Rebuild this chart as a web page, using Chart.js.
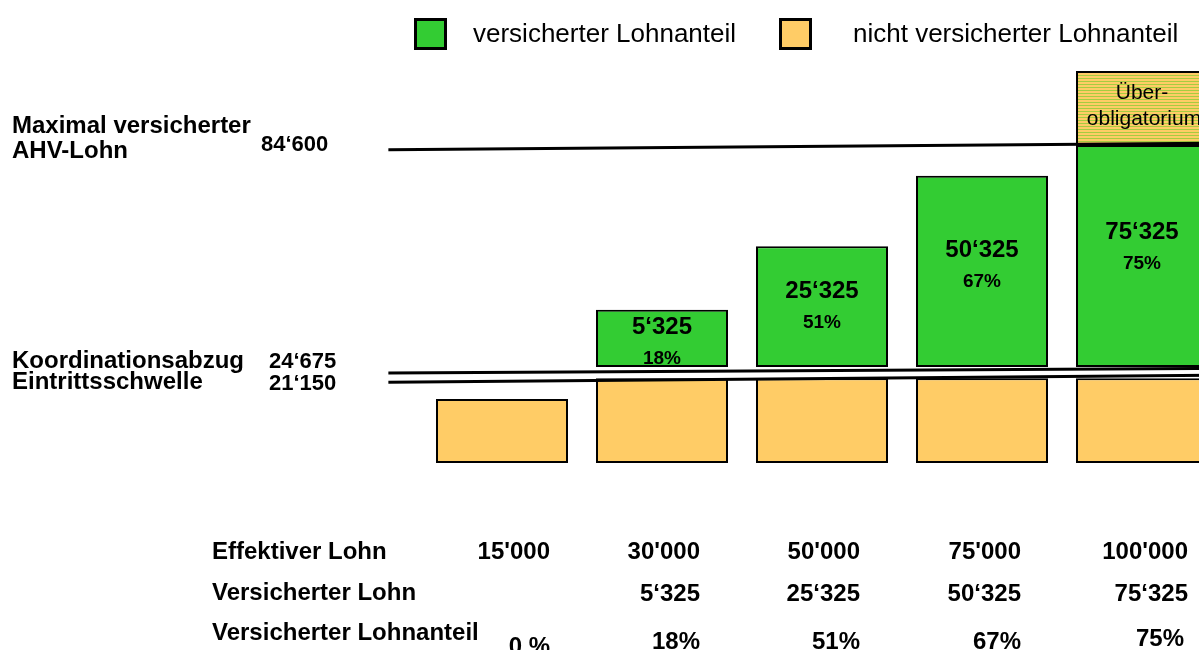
<!DOCTYPE html>
<html>
<head>
<meta charset="utf-8">
<script src="https://cdn.jsdelivr.net/npm/chart.js@4.4.1/dist/chart.umd.min.js"></script>
<style>
  html, body { margin: 0; padding: 0; background: #fff; overflow: hidden; }
  #wrap { width: 1240px; height: 650px; }
</style>
</head>
<body>
<div id="wrap"><canvas id="chart" width="1240" height="650"></canvas></div>
<script>
// Werte aus dem Bild (schematische Höhen, 0 = Unterkante der Balken)
const categories = ['15\'000', '30\'000', '50\'000', '75\'000', '100\'000'];
const nichtVersichert = [[0, 16], [0, 21.2], [0, 21.2], [0, 21.2], [0, 21.2]];
const versichert = [null, [24, 38.3], [24, 54.2], [24, 71.8], [24, 79.5]];
const ueberobligatorium = [null, null, null, null, [79.5, 98]];

// Grenzlinien (links / rechts, leicht schräg im Original)
const maxLinie = [78.3, 80];
const koordLinie = [22.5, 23.7];
const schwelleLinie = [20.2, 22];

// Beschriftungen
const balkenBetrag = ['', '5‘325', '25‘325', '50‘325', '75‘325'];
const balkenProzent = ['', '18%', '51%', '67%', '75%'];
const effektiverLohn = ['15\'000', '30\'000', '50\'000', '75\'000', '100\'000'];
const versicherterLohn = ['', '5‘325', '25‘325', '50‘325', '75‘325'];
const lohnanteil = ['0 %', '18%', '51%', '67%', '75%'];

const GREEN = '#33cc33';
const ORANGE = '#ffcc66';
const FONT = '"Liberation Sans", Arial, sans-serif';

function stripes() {
    const c = document.createElement('canvas');
    c.width = 4; c.height = 3;
    const g = c.getContext('2d');
    g.fillStyle = ORANGE;
    g.fillRect(0, 0, 4, 3);
    g.fillStyle = '#a6cc40';
    g.fillRect(0, 0, 4, 1);
    return g.createPattern(c, 'repeat');
}

const annotations = {
    id: 'annotations',
    afterDatasetsDraw(chart) {
        const ctx = chart.ctx;
        const x = chart.scales.x;
        const y = chart.scales.y;
        const x0 = x.getPixelForValue(-0.71);
        const x1 = chart.width;

        ctx.save();
        ctx.strokeStyle = '#000';
        ctx.lineWidth = 3;
        [maxLinie, koordLinie, schwelleLinie].forEach(l => {
            ctx.beginPath();
            ctx.moveTo(x0, y.getPixelForValue(l[0]));
            ctx.lineTo(x1, y.getPixelForValue(l[1]));
            ctx.stroke();
        });

        // Texte in den grünen Balken
        const meta = chart.getDatasetMeta(1);
        ctx.fillStyle = '#000';
        ctx.textAlign = 'center';
        meta.data.forEach((bar, i) => {
            if (!balkenBetrag[i]) return;
            const h = bar.base - bar.y;
            const yb = bar.y + h * 0.425;
            ctx.font = 'bold 24px ' + FONT;
            ctx.fillText(balkenBetrag[i], bar.x, yb);
            ctx.font = 'bold 19px ' + FONT;
            ctx.fillText(balkenProzent[i], bar.x, yb + 30);
        });

        // Überobligatorium
        const ub = chart.getDatasetMeta(2).data[4];
        ctx.font = '21px ' + FONT;
        ctx.fillText('Über-', ub.x, ub.y + 28);
        ctx.fillText('obligatorium', ub.x + 2, ub.y + 54);
        ctx.restore();
    },
    afterDraw(chart) {
        const ctx = chart.ctx;
        const xs = chart.getDatasetMeta(0).data.map(b => b.x);
        ctx.save();
        ctx.fillStyle = '#000';
        ctx.textBaseline = 'alphabetic';

        // Legende
        ctx.lineWidth = 3;
        ctx.strokeStyle = '#000';
        ctx.fillStyle = GREEN;
        ctx.fillRect(415.5, 19.5, 30, 29);
        ctx.strokeRect(415.5, 19.5, 30, 29);
        ctx.fillStyle = ORANGE;
        ctx.fillRect(780.5, 19.5, 30, 29);
        ctx.strokeRect(780.5, 19.5, 30, 29);
        ctx.fillStyle = '#000';
        ctx.font = '26px ' + FONT;
        ctx.textAlign = 'left';
        ctx.fillText('versicherter Lohnanteil', 473, 42);
        ctx.fillText('nicht versicherter Lohnanteil', 853, 42);

        // linke Beschriftung
        ctx.font = 'bold 24px ' + FONT;
        ctx.fillText('Maximal versicherter', 12, 133);
        ctx.fillText('AHV-Lohn', 12, 158);
        ctx.fillText('Koordinationsabzug', 12, 368);
        ctx.fillText('Eintrittsschwelle', 12, 389);
        ctx.font = 'bold 22px ' + FONT;
        ctx.fillText('84‘600', 261, 151);
        ctx.fillText('24‘675', 269, 368);
        ctx.fillText('21‘150', 269, 390);

        // Tabelle unten
        ctx.font = 'bold 24px ' + FONT;
        ctx.fillText('Effektiver Lohn', 212, 559);
        ctx.fillText('Versicherter Lohn', 212, 600);
        ctx.fillText('Versicherter Lohnanteil', 212, 640);
        ctx.textAlign = 'right';
        const shift = [48, 38, 38, 39, 46];
        xs.forEach((cx, i) => {
            const r = cx + shift[i];
            ctx.fillText(effektiverLohn[i], r, 559);
            if (versicherterLohn[i]) ctx.fillText(versicherterLohn[i], r, 601);
            ctx.fillText(lohnanteil[i], i === 4 ? r - 4 : r, i === 0 ? 654 : (i === 4 ? 646 : 649));
        });
        ctx.restore();
    }
};

const ctx = document.getElementById('chart').getContext('2d');
new Chart(ctx, {
    type: 'bar',
    data: {
        labels: categories,
        datasets: [
            { label: 'nicht versicherter Lohnanteil', data: nichtVersichert, backgroundColor: ORANGE },
            { label: 'versicherter Lohnanteil', data: versichert, backgroundColor: GREEN },
            { label: 'Überobligatorium', data: ueberobligatorium, backgroundColor: stripes() }
        ]
    },
    options: {
        responsive: false,
        animation: false,
        devicePixelRatio: 1,
        layout: { padding: { left: 422, right: 18, top: 63, bottom: 187 } },
        datasets: {
            bar: {
                categoryPercentage: 1,
                barPercentage: 0.825,
                borderColor: '#000',
                borderWidth: 2,
                borderSkipped: false
            }
        },
        plugins: {
            legend: { display: false },
            tooltip: { enabled: false }
        },
        scales: {
            x: { display: false, stacked: true },
            y: { display: false, min: 0, max: 100 }
        }
    },
    plugins: [annotations]
});
</script>
</body>
</html>
